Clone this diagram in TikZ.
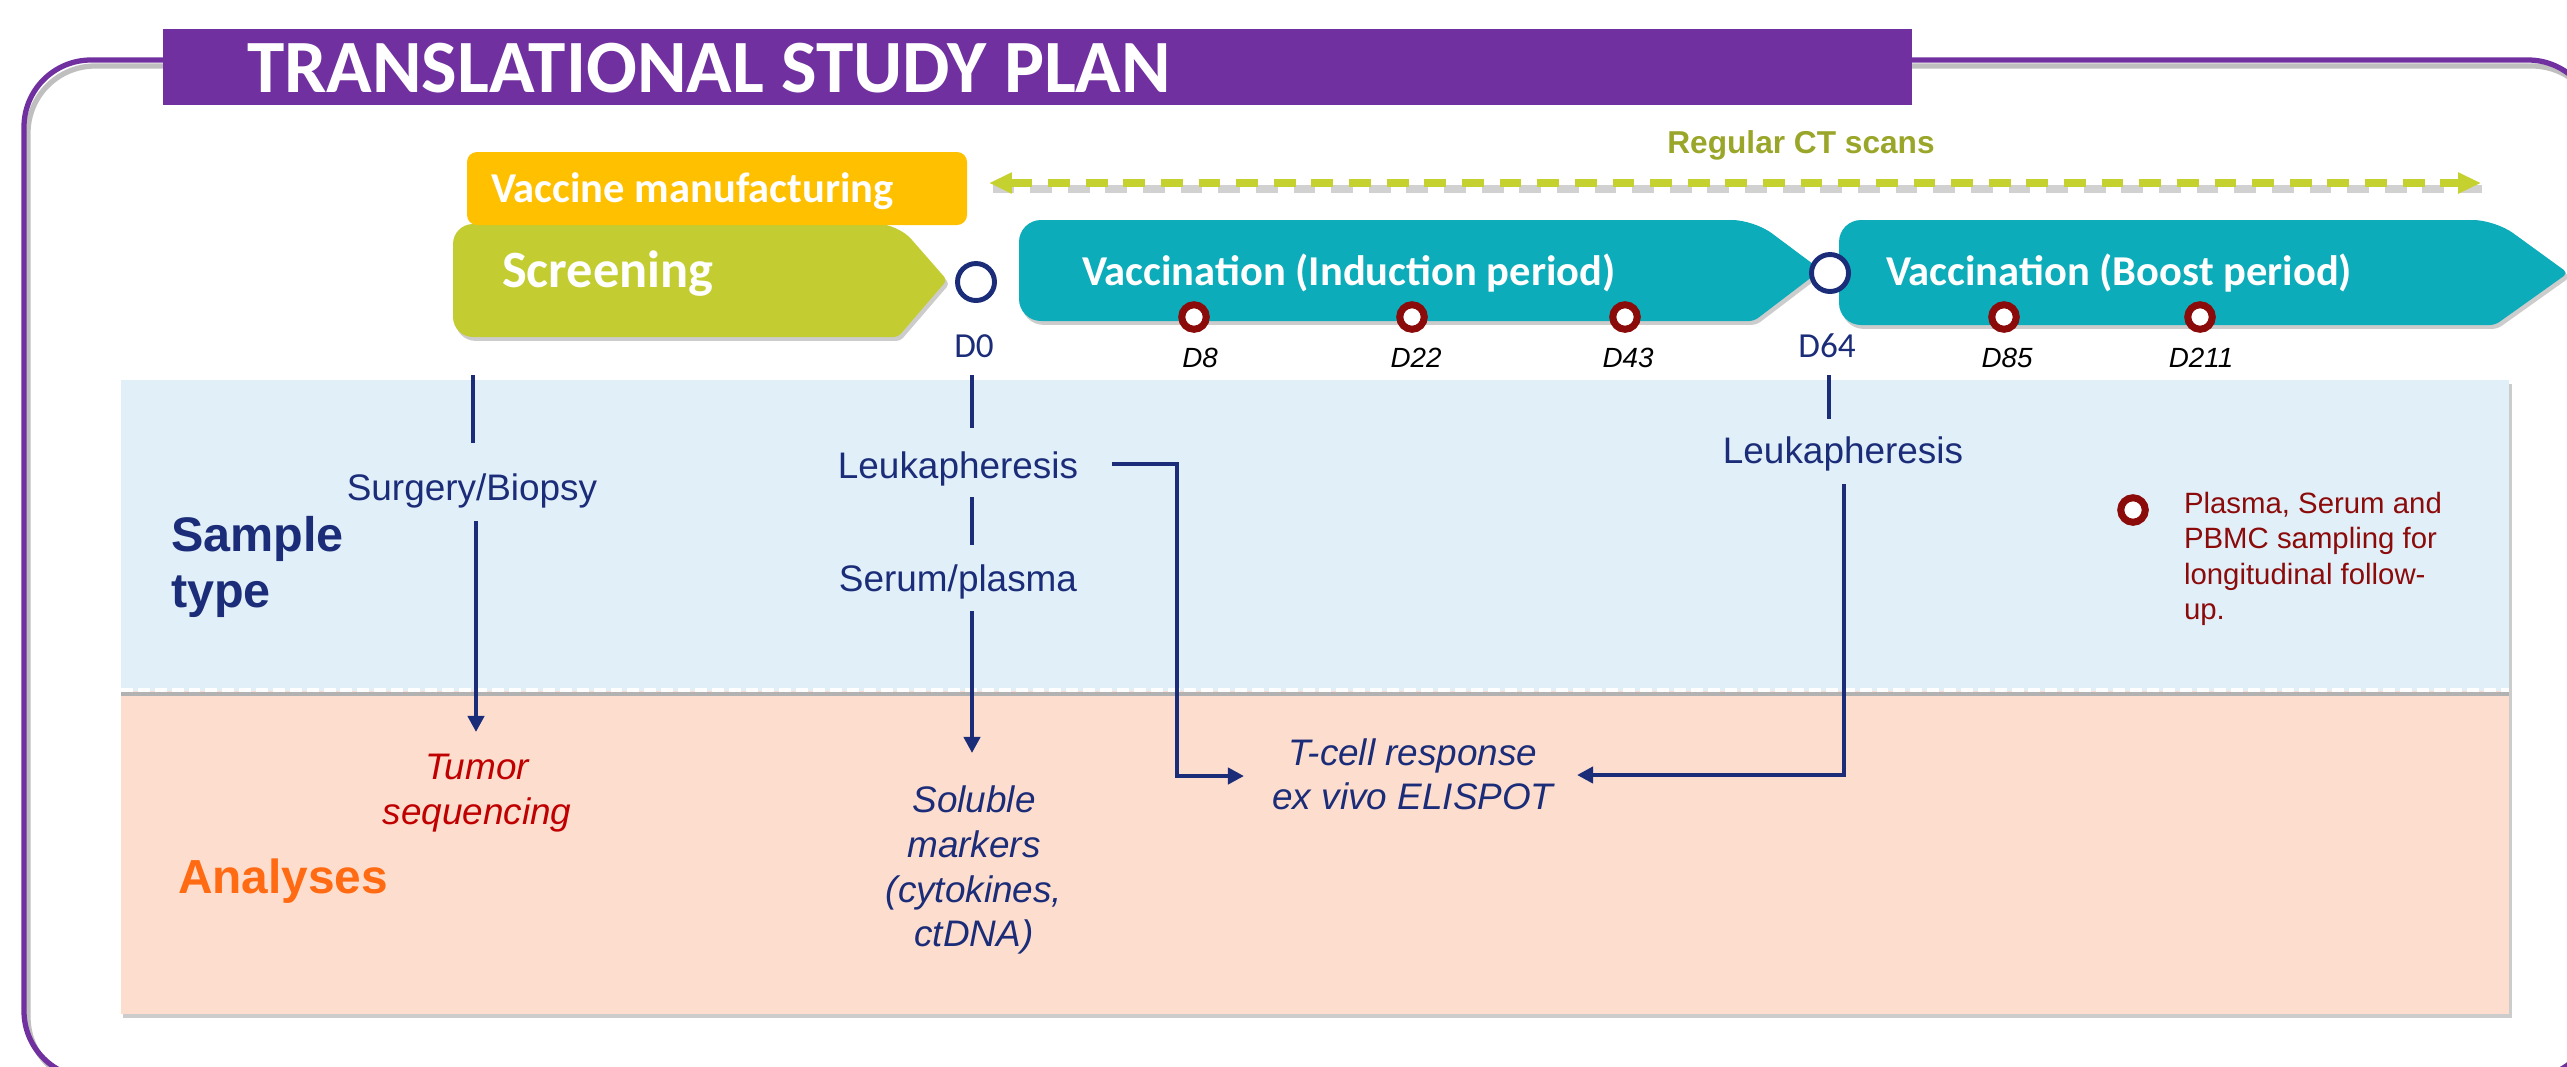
\documentclass[tikz,border=0pt]{standalone}
\usepackage{fontspec}
\setmainfont{Liberation Sans}
\newfontfamily\calfont{Carlito}
\usetikzlibrary{arrows.meta,shadows}

\definecolor{purp}{HTML}{7030A0}
\definecolor{goldbox}{HTML}{FFC000}
\definecolor{limebox}{HTML}{C3CD31}
\definecolor{tealbox}{HTML}{0DACBA}
\definecolor{navyc}{HTML}{1B2C78}
\definecolor{ringred}{HTML}{8B0A0A}
\definecolor{tumred}{HTML}{C00000}
\definecolor{orangec}{HTML}{FF6A13}
\definecolor{ctolive}{HTML}{9AA629}
\definecolor{ctdash}{HTML}{C5D12E}
\definecolor{bandblue}{HTML}{E1EFF9}
\definecolor{bandpink}{HTML}{FDDECE}

\begin{document}
\begin{tikzpicture}[x=0.01cm, y=-0.01cm,
  conn/.style={draw=navyc, line width=1.3pt},
  arr/.style={conn, -{Triangle[length=4.6pt,width=4.6pt]}},
  bluering/.style={circle, draw=navyc, fill=white, line width=1.4pt, minimum size=0.37cm, inner sep=0},
  redring/.style={circle, draw=ringred, fill=white, line width=2pt, minimum size=0.245cm, inner sep=0},
  txt/.style={inner sep=0, outer sep=0},
  sampletxt/.style={txt, text=navyc, font=\fontsize{10.5}{12.7}\selectfont},
  anatxt/.style={txt, align=center, font=\fontsize{10.5}{12.7}\selectfont\itshape},
  daylbl/.style={txt, font=\fontsize{7.9}{9}\selectfont\itshape},
  dlbl/.style={txt, text=navyc, font=\calfont\fontsize{10}{12}\selectfont},
  phase/.style={txt, text=white, font=\calfont\bfseries\fontsize{12.1}{14}\selectfont},
  softshadow/.style={drop shadow={shadow xshift=0.7pt, shadow yshift=-1.1pt, opacity=0.2, fill=black}},
]
\path[use as bounding box] (0,0) rectangle (2567,1066);
\clip (0,0) rectangle (2567,1066);

% outer frame with its shadow
\draw[black, opacity=0.25, line width=1.5pt, rounded corners=0.67cm] (28,66) rectangle (2599,1084);
\draw[purp, line width=1.5pt, rounded corners=0.67cm] (24,60) rectangle (2595,1078);

% title bar
\fill[purp] (163,29) rectangle (1912,105);
\node[txt, anchor=base west, text=white, font=\calfont\bfseries\fontsize{21.4}{25}\selectfont] (title) at (247,92) {TRANSLATIONAL STUDY PLAN};

% background bands
\fill[bandblue, softshadow] (121,380) rectangle (2509,691);
\fill[bandpink, softshadow] (121,691) rectangle (2509,1014);
\draw[black!30, line width=1pt] (121,694) -- (2509,694);
\draw[white, line width=1.1pt, dash pattern=on 3.4pt off 1.4pt] (121,690) -- (2509,690);

% CT scan span
\node[txt, anchor=base, text=ctolive, font=\bfseries\fontsize{9}{11}\selectfont] (ct) at (1801,153) {Regular CT scans};
\coordinate (ctL) at (989,183);
\coordinate (ctR) at (2481,183);
\draw[black, opacity=0.18, line width=2.3pt, dash pattern=on 6.2pt off 4.5pt] ([xshift=1pt,yshift=-1.8pt]ctL) -- ([xshift=1pt,yshift=-1.8pt]ctR);
\draw[ctdash, line width=2.3pt, dash pattern=on 6.2pt off 4.5pt,
  {Triangle[length=6.5pt,width=5.6pt]}-{Triangle[length=6.5pt,width=5.6pt]}] (ctL) -- (ctR);

% study phases
\fill[limebox, softshadow, rounded corners=0.2cm] (898,337) -- (453,337) -- (453,224) -- (898,224) [rounded corners=0.04cm] -- (947,280) -- cycle;
\fill[goldbox, rounded corners=0.1cm] (467,152) rectangle (967,225);
\node[phase, anchor=base west] (vm) at (491,202) {Vaccine manufacturing};
\node[txt, anchor=base west, text=white, font=\calfont\bfseries\fontsize{14.9}{17}\selectfont] (scr) at (502,287) {Screening};

\fill[tealbox, softshadow, rounded corners=0.22cm] (1754,321) -- (1019,321) -- (1019,220) -- (1754,220) [rounded corners=0.05cm] -- (1821,270) -- cycle;
\node[phase, anchor=base west] (ind) at (1082,285) {Vaccination (Induction period)};

\fill[tealbox, softshadow, rounded corners=0.22cm] (2495,325) -- (1839,325) -- (1839,220) -- (2495,220) [rounded corners=0.05cm] -- (2568,273) -- cycle;
\node[phase, anchor=base west] (bst) at (1886,285) {Vaccination (Boost period)};

% time points
\node[bluering] (d0ring) at (976,282) {};
\node[bluering] (d64ring) at (1830,273) {};
\node[dlbl, anchor=base] (d0) at (974,357) {D0};
\node[dlbl, anchor=base] (d64) at (1827,357) {D64};

\node[redring] (r8) at (1194,317) {};
\node[redring] (r22) at (1412,317) {};
\node[redring] (r43) at (1625,317) {};
\node[redring] (r85) at (2004,317) {};
\node[redring] (r211) at (2200,317) {};
\node[daylbl, anchor=base] (d8) at (1200,367) {D8};
\node[daylbl, anchor=base] (d22) at (1416,367) {D22};
\node[daylbl, anchor=base] (d43) at (1628,367) {D43};
\node[daylbl, anchor=base] (d85) at (2007,367) {D85};
\node[daylbl, anchor=base] (d211) at (2201,367) {D211};

% row titles
\node[txt, anchor=west, align=left, text=navyc, font=\bfseries\fontsize{13.8}{15.9}\selectfont] (stype) at (171,567) {Sample\\type};
\node[txt, anchor=base west, text=orangec, font=\bfseries\fontsize{13.6}{16}\selectfont] (ana) at (178,893) {Analyses};

% sample types
\node[sampletxt, anchor=base] (surg) at (472,500) {Surgery/Biopsy};
\node[sampletxt, anchor=base] (leu1) at (958,478) {Leukapheresis};
\node[sampletxt, anchor=base] (serum) at (958,591) {Serum/plasma};
\node[sampletxt, anchor=base] (leu2) at (1843,463) {Leukapheresis};

% analyses
\node[anatxt, text=tumred] (tumor) at (477,793) {Tumor\\sequencing};
\node[anatxt, text=navyc, font=\fontsize{10.5}{12.76}\selectfont\itshape] (sol) at (974,870) {Soluble\\markers\\(cytokines,\\ctDNA)};
\node[anatxt, text=navyc, font=\fontsize{10.5}{12.5}\selectfont\itshape] (tcell) at (1413,774) {T-cell response\\ex vivo ELISPOT};

% legend
\node[redring] (legring) at (2133,510) {};
\node[txt, anchor=west, align=left, text=ringred, font=\fontsize{8.35}{10.1}\selectfont] (legtxt) at (2184,559) {Plasma, Serum and\\PBMC sampling for\\longitudinal follow-\\up.};

% connectors
\coordinate (sA) at (473,375);
\coordinate (sB) at (473,443);
\coordinate (sC) at (476,521);
\coordinate (sD) at (476,732);
\draw[conn] (sA) -- (sB);
\draw[arr] (sC) -- (sD);

\coordinate (mA) at (972,375);
\coordinate (mB) at (972,428);
\coordinate (mC) at (972,497);
\coordinate (mD) at (972,545);
\coordinate (mE) at (972,611);
\coordinate (mF) at (972,753);
\draw[conn] (mA) -- (mB);
\draw[conn] (mC) -- (mD);
\draw[arr] (mE) -- (mF);

\coordinate (lk1) at (1112,464);
\coordinate (tcL) at (1244,776);
\draw[arr] (lk1) -- ++(65,0) |- (tcL);

\coordinate (hA) at (1829,375);
\coordinate (hB) at (1829,419);
\draw[conn] (hA) -- (hB);

\coordinate (lk2) at (1844,484);
\coordinate (tcR) at (1577,775);
\draw[arr] (lk2) |- (tcR);
\end{tikzpicture}
\end{document}
